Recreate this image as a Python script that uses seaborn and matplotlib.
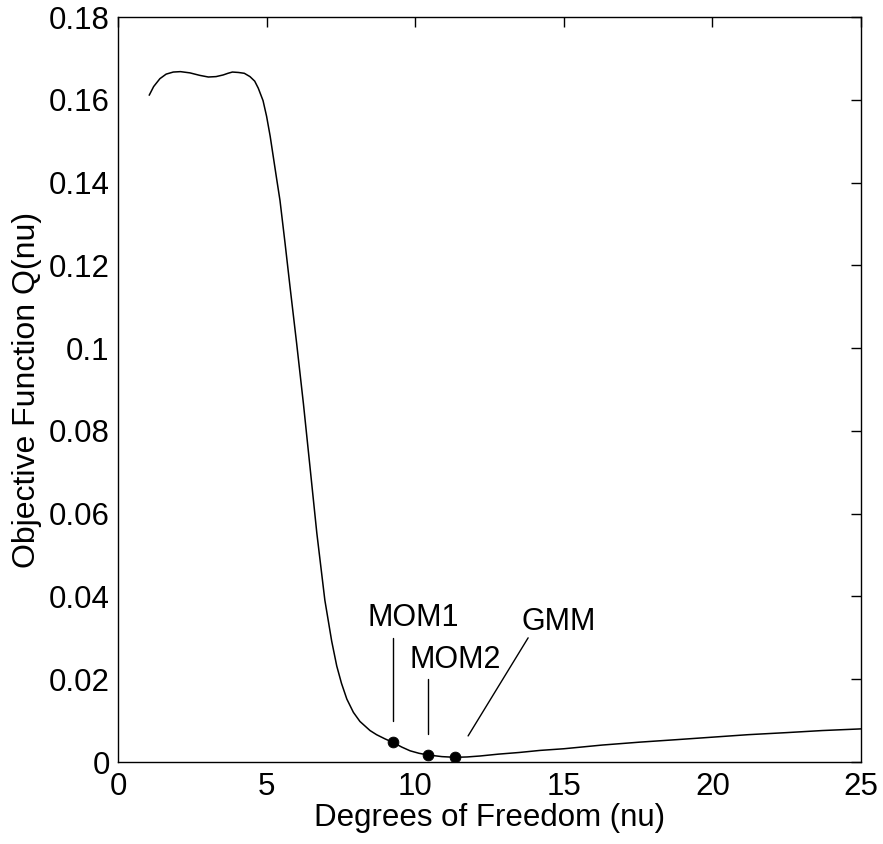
import matplotlib
matplotlib.use("Agg")
import matplotlib.pyplot as plt
import seaborn as sns
import pandas as pd

# Curve
nu = [1.05, 1.20, 1.41, 1.62, 1.86, 2.10, 2.42, 2.75, 3.04, 3.30, 3.54, 3.70, 3.85, 4.05,
      4.25, 4.44, 4.60, 4.72, 4.88, 5.00, 5.12, 5.23, 5.34, 5.45, 5.62, 5.79, 6.01,
      6.24, 6.46, 6.69, 6.96, 7.19, 7.36, 7.52, 7.70, 7.92, 8.14, 8.48, 8.70, 8.98,
      9.26, 9.55, 9.83, 10.13, 10.43, 10.90, 11.34, 11.75, 12.18, 12.80, 13.50, 14.20,
      15.00, 16.30, 17.56, 18.80, 20.00, 21.20, 22.50, 23.70, 25.00]
Q = [0.1611, 0.1632, 0.1651, 0.1662, 0.1667, 0.1668, 0.1665, 0.1659, 0.1655, 0.1656,
     0.1660, 0.1664, 0.1667, 0.1666, 0.1664, 0.1656, 0.1645, 0.1628, 0.1598, 0.1560,
     0.1512, 0.1460, 0.1408, 0.1357, 0.1254, 0.1147, 0.1012, 0.0865, 0.0713, 0.0553,
     0.0391, 0.0292, 0.0232, 0.0190, 0.0152, 0.0120, 0.0098, 0.0076, 0.0066, 0.0056,
     0.0047, 0.0036, 0.0027, 0.0021, 0.0017, 0.00130, 0.00113, 0.00122, 0.00145,
     0.0019, 0.0023, 0.0028, 0.0032, 0.0041, 0.0048, 0.0054, 0.0060, 0.0066, 0.0071,
     0.0076, 0.0080]

# Estimates marked on the curve
est_names = ["MOM1", "MOM2", "GMM"]
est_nu = [9.25, 10.43, 11.34]
est_Q = [0.0048, 0.0017, 0.0012]

# Annotation text positions and leader lines (data units)
label_x = [9.93, 11.34, 14.84]
label_y = [0.0348, 0.0246, 0.0338]
lead_x0 = [9.25, 10.43, 13.80]
lead_y0 = [0.0300, 0.0200, 0.0300]
lead_x1 = [9.25, 10.43, 11.78]
lead_y1 = [0.0099, 0.0068, 0.0063]

xticks = [0, 5, 10, 15, 20, 25]
yticks = [0, 0.02, 0.04, 0.06, 0.08, 0.1, 0.12, 0.14, 0.16, 0.18]
ytick_labels = ["0", "0.02", "0.04", "0.06", "0.08", "0.1", "0.12", "0.14", "0.16", "0.18"]

sns.set_theme(style="white")
plt.rcParams["font.family"] = ["Liberation Sans", "DejaVu Sans"]
plt.rcParams["xtick.direction"] = "in"
plt.rcParams["ytick.direction"] = "in"

FS = 22.5

fig = plt.figure(figsize=(8.83, 8.44), dpi=100)
ax = fig.add_axes([118 / 883, 1 - 762 / 844, (861 - 118) / 883, (762 - 17) / 844])

df = pd.DataFrame({"nu": nu, "Q": Q})
sns.lineplot(data=df, x="nu", y="Q", ax=ax, color="black", linewidth=1.1)

dfe = pd.DataFrame({"nu": est_nu, "Q": est_Q, "name": est_names})
sns.scatterplot(data=dfe, x="nu", y="Q", ax=ax, color="black", s=60, edgecolor="black",
                zorder=5)

for name, tx, ty, x0, y0, x1, y1 in zip(est_names, label_x, label_y,
                                        lead_x0, lead_y0, lead_x1, lead_y1):
    ax.plot([x0, x1], [y0, y1], color="black", linewidth=1.0)
    ax.text(tx, ty, name, ha="center", va="center", fontsize=22, color="black")

ax.set_xlim(0, 25)
ax.set_ylim(0, 0.18)
ax.set_xticks(xticks)
ax.set_xticklabels([str(t) for t in xticks])
ax.set_yticks(yticks)
ax.set_yticklabels(ytick_labels)
ax.tick_params(axis="both", which="both", labelsize=FS, length=7, width=1,
               color="black", top=True, right=True, pad=6, labelcolor="black")
ax.tick_params(axis="x", pad=7)
for sp in ax.spines.values():
    sp.set_color("black")
    sp.set_linewidth(1.0)
ax.set_xlabel("Degrees of Freedom (nu)", fontsize=FS, color="black", labelpad=1)
ax.set_ylabel("Objective Function Q(nu)", fontsize=FS + 0.5, color="black", labelpad=5)

fig.savefig("out.png", dpi=100, facecolor="white")
